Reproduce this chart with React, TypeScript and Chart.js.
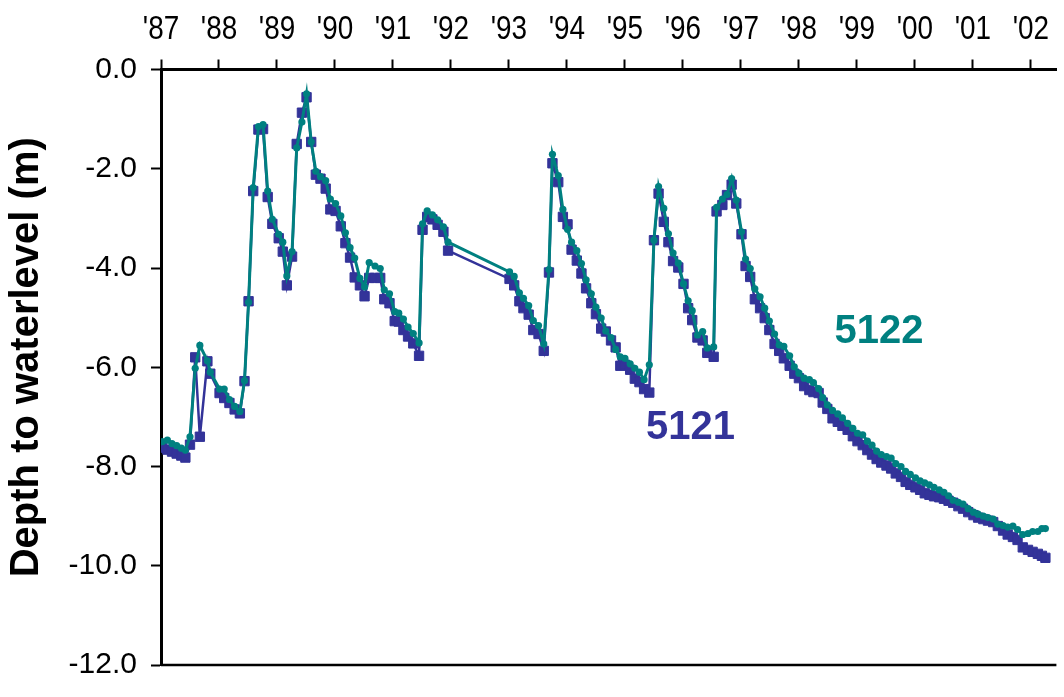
import React, { useEffect, useRef } from 'react';
import { Chart, registerables } from 'chart.js';

Chart.register(...registerables);

// Decimal-year sample dates shared by both wells
const dates: number[] = [
  1987.02, 1987.11, 1987.19, 1987.27, 1987.35, 1987.42, 1987.50, 1987.59, 1987.67, 1987.80,
  1987.85, 1988.01, 1988.09, 1988.18, 1988.27, 1988.36, 1988.44, 1988.51, 1988.59, 1988.68,
  1988.76, 1988.84, 1988.92, 1989.03, 1989.10, 1989.17, 1989.26, 1989.34, 1989.43, 1989.51,
  1989.59, 1989.67, 1989.75, 1989.84, 1989.92, 1990.01, 1990.10, 1990.18, 1990.26, 1990.34,
  1990.43, 1990.51, 1990.59, 1990.69, 1990.78, 1990.85, 1990.94, 1991.03, 1991.10, 1991.18,
  1991.26, 1991.35, 1991.45, 1991.51, 1991.59, 1991.68, 1991.77, 1991.87, 1991.95, 1993.01,
  1993.09, 1993.18, 1993.25, 1993.34, 1993.42, 1993.51, 1993.60, 1993.69, 1993.75, 1993.85,
  1993.93, 1994.01, 1994.08, 1994.17, 1994.25, 1994.33, 1994.42, 1994.50, 1994.59, 1994.67,
  1994.76, 1994.84, 1994.92, 1995.00, 1995.09, 1995.17, 1995.25, 1995.33, 1995.42, 1995.50,
  1995.58, 1995.67, 1995.75, 1995.83, 1995.92, 1996.01, 1996.09, 1996.16, 1996.25, 1996.34,
  1996.42, 1996.53, 1996.58, 1996.68, 1996.76, 1996.84, 1996.92, 1997.01, 1997.08, 1997.16,
  1997.24, 1997.33, 1997.41, 1997.49, 1997.58, 1997.66, 1997.74, 1997.84, 1997.92, 1998.00,
  1998.09, 1998.18, 1998.25, 1998.34, 1998.41, 1998.49, 1998.58, 1998.67, 1998.75, 1998.84,
  1998.93, 1999.01, 1999.10, 1999.18, 1999.26, 1999.34, 1999.42, 1999.51, 1999.59, 1999.67,
  1999.76, 1999.84, 1999.92, 2000.01, 2000.09, 2000.17, 2000.25, 2000.33, 2000.42, 2000.50,
  2000.58, 2000.66, 2000.75, 2000.83, 2000.92, 2001.01, 2001.09, 2001.18, 2001.26, 2001.35,
  2001.43, 2001.52, 2001.60, 2001.69, 2001.77, 2001.86, 2001.95, 2002.03, 2002.12, 2002.19,
  2002.25,
];

// Depth to water level (m), well 5121
const depth5121: number[] = [
  -7.62, -7.66, -7.70, -7.74, -7.78, -7.82, -7.56, -5.80, -7.40, -5.88,
  -6.13, -6.52, -6.62, -6.72, -6.85, -6.93, -6.28, -4.67, -2.45, -1.21,
  -1.20, -2.57, -3.11, -3.40, -3.67, -4.35, -3.77, -1.50, -0.87, -0.56,
  -1.46, -2.12, -2.20, -2.40, -2.82, -2.85, -3.16, -3.50, -3.79, -4.19,
  -4.35, -4.57, -4.20, -4.20, -4.20, -4.63, -4.71, -5.07, -5.08, -5.25,
  -5.38, -5.52, -5.77, -3.23, -2.97, -3.02, -3.13, -3.27, -3.65, -4.22,
  -4.35, -4.67, -4.81, -4.94, -5.25, -5.33, -5.67, -4.09, -1.89, -2.27,
  -2.97, -3.12, -3.63, -3.85, -4.11, -4.41, -4.71, -4.93, -5.22, -5.28,
  -5.46, -5.60, -5.97, -5.95, -6.05, -6.23, -6.30, -6.44, -6.51, -3.44,
  -2.50, -3.07, -3.48, -3.86, -3.99, -4.32, -4.81, -5.05, -5.40, -5.46,
  -5.71, -5.79, -2.86, -2.73, -2.53, -2.32, -2.70, -3.32, -3.96, -4.18,
  -4.63, -4.81, -5.01, -5.25, -5.53, -5.67, -5.82, -5.97, -6.13, -6.22,
  -6.38, -6.46, -6.50, -6.52, -6.71, -6.84, -7.03, -7.10, -7.18, -7.26,
  -7.39, -7.49, -7.57, -7.67, -7.76, -7.85, -7.92, -7.98, -8.04, -8.14,
  -8.21, -8.31, -8.37, -8.42, -8.47, -8.54, -8.57, -8.60, -8.62, -8.65,
  -8.69, -8.73, -8.80, -8.85, -8.92, -8.98, -9.03, -9.06, -9.09, -9.12,
  -9.20, -9.29, -9.37, -9.42, -9.48, -9.63, -9.68, -9.72, -9.76, -9.80,
  -9.84,
];

// Depth to water level (m), well 5122
const depth5122: number[] = [
  -7.50, -7.47, -7.54, -7.58, -7.63, -7.67, -7.40, -6.02, -5.56, -5.87,
  -6.10, -6.44, -6.44, -6.65, -6.79, -6.89, -6.27, -4.69, -2.38, -1.15,
  -1.11, -2.45, -3.02, -3.32, -3.48, -4.16, -3.67, -1.58, -1.06, -0.49,
  -1.46, -2.05, -2.16, -2.24, -2.61, -2.70, -2.95, -3.29, -3.59, -3.80,
  -4.21, -4.38, -3.89, -3.96, -4.01, -4.44, -4.52, -4.88, -4.91, -5.03,
  -5.19, -5.32, -5.51, -3.11, -2.85, -2.93, -3.03, -3.17, -3.48, -4.08,
  -4.17, -4.50, -4.61, -4.76, -5.06, -5.16, -5.53, -4.03, -1.71, -2.14,
  -2.82, -3.22, -3.48, -3.65, -3.91, -4.24, -4.52, -4.79, -5.01, -5.27,
  -5.40, -5.64, -5.79, -5.82, -5.93, -6.02, -6.10, -6.25, -5.95, -3.44,
  -2.36, -2.80, -3.31, -3.70, -3.90, -4.32, -4.66, -4.86, -5.35, -5.28,
  -5.61, -5.59, -2.78, -2.61, -2.52, -2.20, -2.63, -3.27, -3.82, -4.01,
  -4.42, -4.58, -4.81, -5.07, -5.33, -5.55, -5.58, -5.77, -5.99, -6.12,
  -6.22, -6.25, -6.31, -6.43, -6.61, -6.76, -6.87, -6.94, -7.02, -7.13,
  -7.23, -7.33, -7.36, -7.49, -7.57, -7.69, -7.76, -7.80, -7.83, -7.94,
  -8.00, -8.10, -8.16, -8.23, -8.29, -8.33, -8.37, -8.42, -8.47, -8.52,
  -8.59, -8.68, -8.72, -8.76, -8.85, -8.92, -8.96, -9.00, -9.03, -9.06,
  -9.16, -9.19, -9.22, -9.20, -9.27, -9.37, -9.35, -9.31, -9.31, -9.25,
  -9.25,
];

const xMin = 1987;
const xMax = 2002.44;
const yMin = -12;
const yMax = 0;
const yStep = 2;

const yTitle = 'Depth to waterlevel (m)';
const seriesNames = ['5121', '5122'];
const seriesColors = ['#333399', '#008080'];
// annotation anchor points (data coordinates)
const labelX = [1996.13, 1999.38];
const labelY = [-7.22, -5.29];

const FONT = '"Liberation Sans", Arial, Helvetica, sans-serif';

const yearLabel = (v: number) => "'" + String(Math.round(v) % 100).padStart(2, '0');

const overlayPlugin = {
  id: 'overlay',
  afterDraw(chart: any) {
    const { ctx, chartArea, scales } = chart;
    ctx.save();
    // bottom frame line
    ctx.strokeStyle = '#000';
    ctx.lineWidth = 2.5;
    ctx.beginPath();
    ctx.moveTo(chartArea.left, chartArea.bottom);
    ctx.lineTo(chartArea.right, chartArea.bottom);
    ctx.stroke();

    // condensed year labels above the top axis
    ctx.fillStyle = '#000';
    ctx.font = `34px ${FONT}`;
    ctx.textAlign = 'center';
    ctx.textBaseline = 'alphabetic';
    scales.x.ticks.forEach((t: any) => {
      const px = scales.x.getPixelForValue(t.value);
      ctx.save();
      ctx.translate(px, 39);
      ctx.scale(0.82, 1);
      ctx.fillText(yearLabel(t.value), 0, 0);
      ctx.restore();
    });

    // y title
    ctx.save();
    ctx.translate(27, (chartArea.top + chartArea.bottom) / 2 - 10);
    ctx.rotate(-Math.PI / 2);
    ctx.font = `bold 40px ${FONT}`;
    ctx.fillStyle = '#000';
    ctx.textAlign = 'center';
    ctx.textBaseline = 'middle';
    ctx.fillText(yTitle, 0, 0);
    ctx.restore();

    // series labels
    ctx.font = `bold 40px ${FONT}`;
    ctx.textAlign = 'center';
    ctx.textBaseline = 'middle';
    seriesNames.forEach((name, i) => {
      ctx.fillStyle = seriesColors[i];
      ctx.fillText(name, scales.x.getPixelForValue(labelX[i]), scales.y.getPixelForValue(labelY[i]));
    });
    ctx.restore();
  },
};

export default function App() {
  const ref = useRef<HTMLCanvasElement>(null);
  useEffect(() => {
    if (!ref.current) return;
    const chart = new Chart(ref.current, {
      type: 'line',
      data: {
        datasets: [
          {
            label: seriesNames[1],
            data: dates.map((d, i) => ({ x: d, y: depth5122[i] })),
            borderColor: seriesColors[1],
            backgroundColor: seriesColors[1],
            borderWidth: 3,
            pointStyle: 'circle',
            pointRadius: 3.6,
            pointBorderWidth: 0,
            tension: 0,
            order: 0,
          },
          {
            label: seriesNames[0],
            data: dates.map((d, i) => ({ x: d, y: depth5121[i] })),
            borderColor: seriesColors[0],
            backgroundColor: seriesColors[0],
            borderWidth: 2.5,
            pointStyle: 'rect',
            pointRadius: 6.6,
            pointBorderWidth: 1,
            tension: 0,
            order: 1,
          },
        ],
      },
      options: {
        animation: false,
        responsive: false,
        devicePixelRatio: 1,
        layout: { padding: { left: 0, right: 0, top: 0, bottom: 17 } },
        plugins: { legend: { display: false }, tooltip: { enabled: false } },
        scales: {
          x: {
            type: 'linear',
            position: 'top',
            min: xMin,
            max: xMax,
            ticks: {
              display: false,
              stepSize: 1,
              autoSkip: false,
              maxRotation: 0,
              includeBounds: false,
            },
            grid: { drawOnChartArea: false, tickLength: 10, tickWidth: 2, tickColor: '#000' },
            border: { display: true, color: '#000', width: 3 },
            afterFit: (s: any) => { s.height = 69.5; },
          },
          y: {
            min: yMin,
            max: yMax,
            ticks: {
              stepSize: yStep,
              padding: 14,
              color: '#000',
              font: { family: FONT, size: 30 },
              callback: (v: any) => Number(v).toFixed(1),
            },
            grid: { drawOnChartArea: false, tickLength: 10, tickWidth: 2, tickColor: '#000' },
            border: { display: true, color: '#000', width: 3 },
            afterFit: (s: any) => { s.width = 161; },
          },
        },
      },
      plugins: [overlayPlugin],
    });
    return () => chart.destroy();
  }, []);
  return (
    <div style={{ position: 'fixed', left: 0, top: 0, width: 1064, height: 697, background: '#fff' }}>
      <canvas ref={ref} width={1064} height={697} />
    </div>
  );
}
